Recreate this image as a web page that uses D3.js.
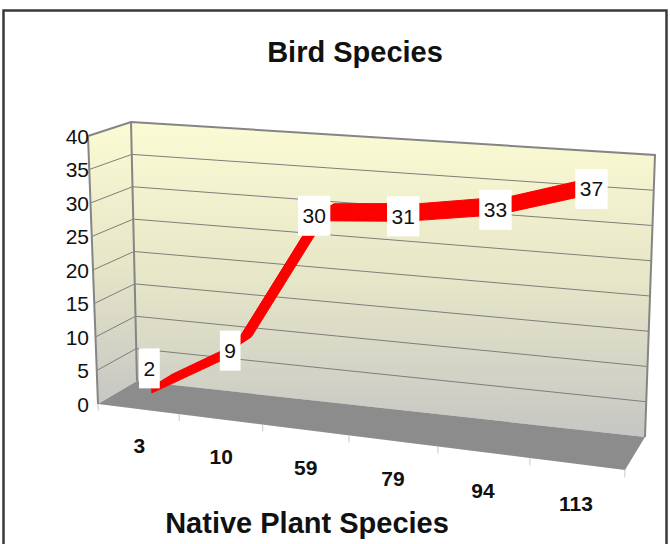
<!DOCTYPE html>
<html>
<head>
<meta charset="utf-8">
<script src="https://cdn.jsdelivr.net/npm/d3@7"></script>
<style>
  body { margin: 0; background: #fff; }
  svg { display: block; font-family: "Liberation Sans", Arial, sans-serif; }
</style>
</head>
<body>
<div id="chart"></div>
<script>
// chart values
const categories = ['3', '10', '59', '79', '94', '113'];
const birdSpecies = [2, 9, 30, 31, 33, 37];
const yTicks = [0, 5, 10, 15, 20, 25, 30, 35, 40];
const chartTitle = 'Bird Species';
const xTitle = 'Native Plant Species';

const width = 670, height = 544;

// screen corners of the 3d box (front = z 0, back = z 1)
const box = {
    front: { lb: [98, 404], lt: [88, 136], rb: [625, 470], rt: [635, 178] },
    back:  { lb: [137, 381], lt: [131, 122], rb: [645, 437], rt: [655, 155] }
};
const weightLeft = 1.1, weightBack = 1.035;   // perspective: left and back are further away
const ribbonFront = 0.36, ribbonBack = 0.91, ribbonThick = 0.9, labelDepth = 0.3;

const x = d3.scaleBand().domain(categories).range([0, 1]);
const y = d3.scaleLinear().domain([0, 40]).range([0, 1]);

function project(u, v, z) {
    let sx = 0, sy = 0, sw = 0;
    [['front', 1 - z, 1], ['back', z, weightBack]].forEach(([face, bz, wz]) => {
        [['l', 1 - u, weightLeft], ['r', u, 1]].forEach(([side, bu, wu]) => {
            [['b', 1 - v], ['t', v]].forEach(([end, bv]) => {
                const p = box[face][side + end];
                const w = bz * bu * bv * wz * wu;
                sx += w * p[0];
                sy += w * p[1];
                sw += w;
            });
        });
    });
    return [sx / sw, sy / sw];
}

const center = c => x(c) + x.bandwidth() / 2;

const svg = d3.select('#chart').append('svg')
    .attr('width', width)
    .attr('height', height);

const defs = svg.append('defs');
const grad = defs.append('linearGradient')
    .attr('id', 'wallFill')
    .attr('x1', 0).attr('y1', 0).attr('x2', 0).attr('y2', 1);
grad.append('stop').attr('offset', 0).attr('stop-color', '#fbfbd4');
grad.append('stop').attr('offset', 0.5).attr('stop-color', '#e6e6c8');
grad.append('stop').attr('offset', 1).attr('stop-color', '#c6c6c4');

// outer frame
svg.append('rect')
    .attr('x', 3.5).attr('y', 10.5)
    .attr('width', 663).attr('height', 560)
    .attr('fill', '#fff')
    .attr('stroke', '#3a3a3a')
    .attr('stroke-width', 2.5);

const poly = pts => 'M' + pts.map(p => p.join(',')).join('L') + 'Z';

// walls
const backWall = [project(0, 1, 1), project(1, 1, 1), project(1, 0, 1), project(0, 0, 1)];
const sideWall = [project(0, 1, 0), project(0, 1, 1), project(0, 0, 1), project(0, 0, 0)];
const floor = [project(0, 0, 0), project(0, 0, 1), project(1, 0, 1), project(1, 0, 0)];

svg.append('path').attr('d', poly(backWall)).attr('fill', 'url(#wallFill)');
svg.append('path').attr('d', poly(sideWall)).attr('fill', 'url(#wallFill)');

// gridlines
const inner = yTicks.filter(t => t > 0 && t < 40);
svg.append('g')
    .selectAll('path')
    .data(inner)
    .join('path')
    .attr('d', t => 'M' + project(0, y(t), 0) + 'L' + project(0, y(t), 1) + 'L' + project(1, y(t), 1))
    .attr('fill', 'none')
    .attr('stroke', '#7e7e7a')
    .attr('stroke-width', 1);

svg.append('path').attr('d', poly(floor)).attr('fill', '#8c8c8c');

// wall edges
svg.append('path')
    .attr('d', 'M' + [project(0, 0, 0), project(0, 1, 0), project(0, 1, 1), project(1, 1, 1), project(1, 0, 1)].join('L')
        + 'M' + project(0, 1, 1) + 'L' + project(0, 0, 1))
    .attr('fill', 'none')
    .attr('stroke', '#858585')
    .attr('stroke-width', 2);

// y axis labels
svg.append('g')
    .selectAll('text')
    .data(yTicks)
    .join('text')
    .attr('x', 89)
    .attr('y', t => project(0, y(t), 0)[1])
    .attr('text-anchor', 'end')
    .attr('dominant-baseline', 'central')
    .attr('font-size', 21)
    .attr('fill', '#111')
    .text(t => t);

// category ticks and labels
const bounds = d3.range(categories.length + 1).map(i => i / categories.length);
svg.append('g')
    .selectAll('line')
    .data(bounds)
    .join('line')
    .attr('x1', u => project(u, 0, 0)[0])
    .attr('y1', u => project(u, 0, 0)[1])
    .attr('x2', u => project(u, y(-1), 0)[0])
    .attr('y2', u => project(u, y(-1), 0)[1])
    .attr('stroke', '#c8c8c8')
    .attr('stroke-width', 1);

svg.append('g')
    .selectAll('text')
    .data(categories)
    .join('text')
    .attr('x', c => project(center(c), y(-5.4), 0)[0])
    .attr('y', c => project(center(c), y(-5.4), 0)[1])
    .attr('text-anchor', 'middle')
    .attr('dominant-baseline', 'central')
    .attr('font-size', 21)
    .attr('font-weight', 'bold')
    .attr('fill', '#111')
    .text(c => c);

// ribbon: top face plus front face for each segment
const pts = categories.map((c, i) => ({ u: center(c), v: y(birdSpecies[i]) }));
const drop = y(ribbonThick);
const faces = [];
d3.pairs(pts).forEach(([a, b]) => {
    faces.push([project(a.u, a.v, ribbonFront), project(b.u, b.v, ribbonFront),
        project(b.u, b.v, ribbonBack), project(a.u, a.v, ribbonBack)]);
    faces.push([project(a.u, a.v, ribbonFront), project(b.u, b.v, ribbonFront),
        project(b.u, b.v - drop, ribbonFront), project(a.u, a.v - drop, ribbonFront)]);
});
const last = pts[pts.length - 1];
faces.push([project(last.u, last.v, ribbonFront), project(last.u, last.v, ribbonBack),
    project(last.u, last.v - drop, ribbonBack), project(last.u, last.v - drop, ribbonFront)]);

svg.append('g')
    .selectAll('path')
    .data(faces)
    .join('path')
    .attr('d', poly)
    .attr('fill', '#ff0000')
    .attr('stroke', '#ff0000')
    .attr('stroke-width', 1)
    .attr('stroke-linejoin', 'round');

// data labels
const boxH = 40;
const labels = svg.append('g')
    .selectAll('g')
    .data(categories.map((c, i) => {
        const p = project(center(c), y(birdSpecies[i]), labelDepth);
        const floorY = project(center(c), 0, labelDepth)[1];
        const cy = p[1] + boxH / 2 > floorY ? p[1] - boxH / 2 : p[1];
        return { value: birdSpecies[i], x: p[0], y: cy };
    }))
    .join('g')
    .attr('transform', d => `translate(${d.x},${d.y})`);

labels.append('rect').attr('fill', '#fff');
labels.append('text')
    .attr('text-anchor', 'middle')
    .attr('dominant-baseline', 'central')
    .attr('font-size', 21)
    .attr('fill', '#111')
    .text(d => d.value);
labels.each(function() {
    const g = d3.select(this);
    const w = g.select('text').node().getComputedTextLength() + 9;
    g.select('rect')
        .attr('x', -w / 2).attr('y', -boxH / 2)
        .attr('width', w).attr('height', boxH);
});

// titles
svg.append('text')
    .attr('x', 355)
    .attr('y', 62)
    .attr('text-anchor', 'middle')
    .attr('font-size', 29)
    .attr('font-weight', 'bold')
    .attr('fill', '#111')
    .text(chartTitle);

svg.append('text')
    .attr('x', 307)
    .attr('y', 533)
    .attr('text-anchor', 'middle')
    .attr('font-size', 29)
    .attr('font-weight', 'bold')
    .attr('fill', '#111')
    .text(xTitle);
</script>
</body>
</html>
